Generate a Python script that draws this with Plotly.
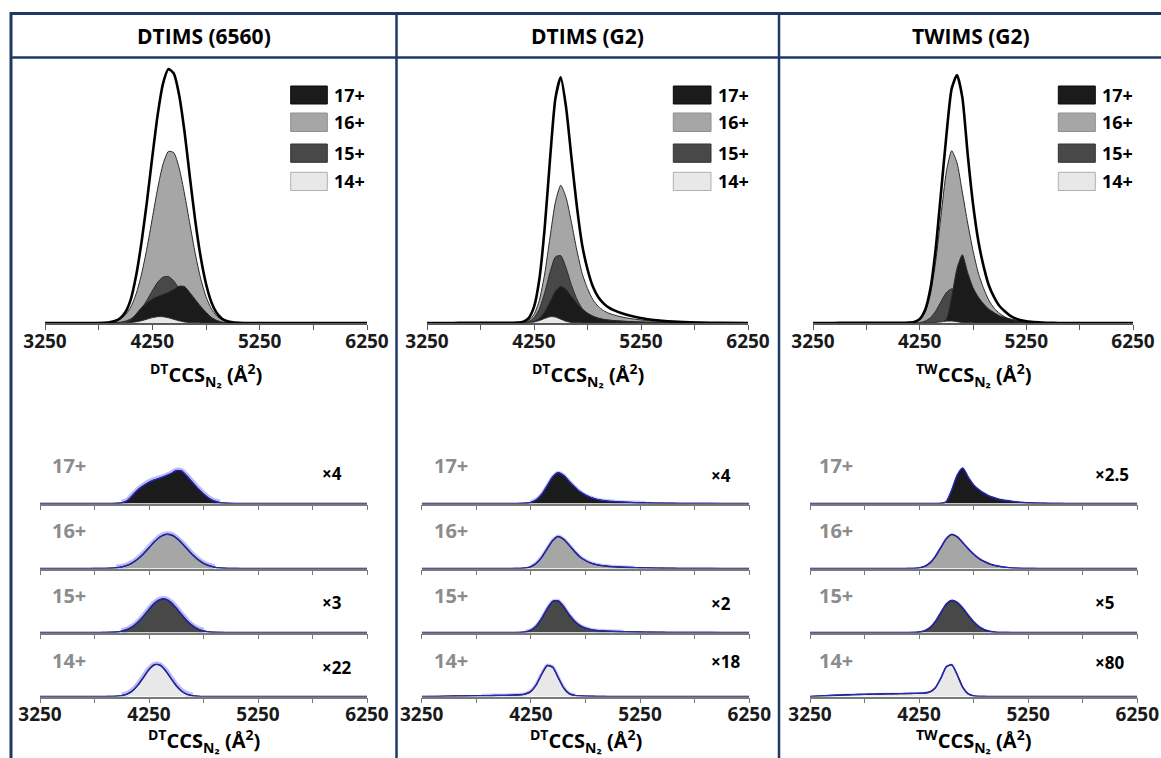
import plotly.graph_objects as go

# ---------------- data ----------------
CCS = [3250, 3400, 3500, 3600, 3700, 3800, 3850, 3900, 3950, 4000, 4050, 4100, 4150,
       4200, 4250, 4300, 4350, 4400, 4450, 4500, 4550, 4600, 4650, 4700, 4750, 4800,
       4850, 4900, 4950, 5000, 5100, 5200, 5300, 5400, 5500, 5600, 5800, 6000, 6250]

# DTIMS (6560)
DT6560_TOTAL = [0, 0, 0, 0, 0.0001, 0.0010, 0.0028, 0.0074, 0.0186, 0.0427, 0.0926, 0.1857, 0.3155,
                0.4714, 0.6445, 0.8075, 0.9286, 0.9843, 0.9666, 0.8829, 0.7409, 0.5643, 0.3957, 0.2566,
                0.1519, 0.0807, 0.0386, 0.0167, 0.0065, 0.0023, 0.0002, 0, 0, 0, 0, 0, 0, 0, 0]
DT6560_17 = [0, 0, 0, 0, 0, 0, 0, 0, 0.0007, 0.0029, 0.0118, 0.0353, 0.0603, 0.0779, 0.0926, 0.1029,
             0.1103, 0.1191, 0.1294, 0.1426, 0.1411, 0.1176, 0.0911, 0.0647, 0.0412, 0.0221, 0.0103,
             0.0037, 0.0012, 0.0003, 0, 0, 0, 0, 0, 0, 0, 0, 0]
DT6560_16 = [0, 0, 0, 0, 0.0001, 0.0009, 0.0024, 0.0062, 0.0147, 0.0317, 0.0627, 0.114, 0.190, 0.290,
             0.406, 0.522, 0.616, 0.665, 0.660, 0.600, 0.500, 0.383, 0.268, 0.173, 0.102, 0.055, 0.027,
             0.0125, 0.0052, 0.002, 0.0002, 0, 0, 0, 0, 0, 0, 0, 0]
DT6560_15 = [0, 0, 0, 0, 0, 0.0001, 0.0004, 0.0011, 0.003, 0.0074, 0.0162, 0.0319, 0.0562, 0.0886,
             0.125, 0.158, 0.178, 0.180, 0.163, 0.132, 0.0957, 0.062, 0.036, 0.0187, 0.0087, 0.0036,
             0.0013, 0.0005, 0.0001, 0, 0, 0, 0, 0, 0, 0, 0, 0, 0]
DT6560_14 = [0, 0, 0, 0, 0, 0, 0, 0.0001, 0.0002, 0.0007, 0.0019, 0.0045, 0.0090, 0.0149, 0.0209,
             0.0246, 0.0243, 0.0202, 0.0142, 0.0083, 0.0041, 0.0017, 0.0006, 0.0002, 0, 0, 0, 0, 0,
             0, 0, 0, 0, 0, 0, 0, 0, 0, 0]

# DTIMS (G2)
DTG2_TOTAL = [0, 0.0001, 0.0003, 0.0004, 0.0005, 0.0007, 0.0007, 0.0008, 0.0009, 0.0009, 0.0011,
              0.0019, 0.0055, 0.0196, 0.0647, 0.1763, 0.3832, 0.6613, 0.9048, 0.9901, 0.8683, 0.6663,
              0.4718, 0.3149, 0.2167, 0.1472, 0.1051, 0.0793, 0.0621, 0.0510, 0.0350, 0.0241, 0.0163,
              0.0108, 0.0071, 0.0046, 0.0018, 0.0006, 0]
DTG2_17 = [0, 0, 0, 0, 0, 0, 0, 0, 0, 0, 0, 0, 0.0003, 0.0014, 0.0057, 0.0181, 0.0445, 0.0853, 0.1273,
           0.1480, 0.1347, 0.1066, 0.0799, 0.0562, 0.0400, 0.0281, 0.0200, 0.0148, 0.0115, 0.0093,
           0.0065, 0.0044, 0.0030, 0.0019, 0.0013, 0.0008, 0.0003, 0.0001, 0]
DTG2_16 = [0, 0, 0, 0, 0, 0, 0, 0, 0, 0, 0.0001, 0.0005, 0.0025, 0.0103, 0.0342, 0.0916, 0.198, 0.346,
           0.487, 0.555, 0.505, 0.405, 0.294, 0.200, 0.139, 0.094, 0.067, 0.050, 0.039, 0.032, 0.0216,
           0.015, 0.010, 0.0067, 0.0044, 0.0028, 0.0011, 0.0004, 0]
DTG2_15 = [0, 0, 0, 0, 0, 0, 0, 0, 0, 0, 0, 0.0002, 0.0013, 0.0058, 0.0206, 0.0568, 0.1221, 0.2044,
           0.2664, 0.2715, 0.2216, 0.1524, 0.0970, 0.0582, 0.0374, 0.0249, 0.0180, 0.0144, 0.0116,
           0.0097, 0.0069, 0.0047, 0.0033, 0.0022, 0.0014, 0.0010, 0.0004, 0.0001, 0]
DTG2_14 = [0, 0.0001, 0.0003, 0.0004, 0.0005, 0.0007, 0.0007, 0.0008, 0.0009, 0.0009, 0.0010, 0.0012,
           0.0014, 0.0021, 0.0042, 0.0098, 0.0186, 0.0256, 0.0241, 0.0156, 0.0070, 0.0023, 0.0009,
           0.0005, 0.0003, 0.0002, 0.0001, 0.0001, 0, 0, 0, 0, 0, 0, 0, 0, 0, 0, 0]

# TWIMS (G2)
TWG2_TOTAL = [0, 0.0002, 0.0003, 0.0004, 0.0005, 0.0006, 0.0006, 0.0006, 0.0006, 0.0007, 0.0007,
              0.0007, 0.0013, 0.0042, 0.0151, 0.0492, 0.1319, 0.2874, 0.5062, 0.7271, 0.9115, 0.9646,
              0.8775, 0.6570, 0.4638, 0.3189, 0.2195, 0.1447, 0.0984, 0.0652, 0.0280, 0.0108, 0.0044,
              0.0016, 0.0005, 0, 0, 0, 0]
TWG2_17 = [0, 0, 0, 0, 0, 0, 0, 0, 0, 0, 0, 0, 0, 0, 0, 0, 0, 0, 0.0013, 0.0133, 0.1007, 0.2120,
           0.2650, 0.1961, 0.1378, 0.1007, 0.0742, 0.0530, 0.0398, 0.0278, 0.0159, 0.0074, 0.0037,
           0.0016, 0.0005, 0, 0, 0, 0]
TWG2_16 = [0, 0, 0, 0, 0, 0, 0, 0, 0, 0, 0, 0, 0.0006, 0.0030, 0.0124, 0.0413, 0.1106, 0.2392, 0.4174,
           0.5883, 0.6700, 0.6231, 0.5092, 0.3886, 0.2814, 0.1943, 0.1340, 0.0871, 0.0570, 0.0369,
           0.0121, 0.0034, 0.0007, 0, 0, 0, 0, 0, 0]
TWG2_15 = [0, 0, 0, 0, 0, 0, 0, 0, 0, 0, 0, 0, 0, 0.0004, 0.0019, 0.0070, 0.0202, 0.0460, 0.0830,
           0.1182, 0.1330, 0.1242, 0.1011, 0.0717, 0.0444, 0.0239, 0.0113, 0.0046, 0.0016, 0.0005,
           0, 0, 0, 0, 0, 0, 0, 0, 0]
TWG2_14 = [0, 0.00020, 0.00032, 0.00042, 0.00050, 0.00056, 0.00059, 0.00062, 0.00064, 0.00066,
           0.00069, 0.00071, 0.00074, 0.00076, 0.00078, 0.00085, 0.00114, 0.00216, 0.00451, 0.00730,
           0.00778, 0.00528, 0.00224, 0.00064, 0.00016, 0.00004, 0.00001, 0, 0, 0, 0, 0, 0, 0, 0, 0,
           0, 0, 0]

TITLES = ["DTIMS (6560)", "DTIMS (G2)", "TWIMS (G2)"]
AXIS_PREFIX = ["DT", "DT", "TW"]
CHARGES = ["17+", "16+", "15+", "14+"]
MULT_6560 = ["×4", "", "×3", "×22"]
MULT_DTG2 = ["×4", "", "×2", "×18"]
MULT_TWG2 = ["×2.5", "", "×5", "×80"]
TICK_VALS = [3250, 4250, 5250, 6250]
TICK_TEXT = ["3250", "4250", "5250", "6250"]

PANELS = [
    dict(total=DT6560_TOTAL, comps={"17+": DT6560_17, "16+": DT6560_16, "15+": DT6560_15, "14+": DT6560_14}, mult=MULT_6560),
    dict(total=DTG2_TOTAL, comps={"17+": DTG2_17, "16+": DTG2_16, "15+": DTG2_15, "14+": DTG2_14}, mult=MULT_DTG2),
    dict(total=TWG2_TOTAL, comps={"17+": TWG2_17, "16+": TWG2_16, "15+": TWG2_15, "14+": TWG2_14}, mult=MULT_TWG2),
]

# ---------------- layout constants (pixels) ----------------
W, H = 1161, 758
FONT = "Open Sans"
NAVY = "#1f3864"
AXC_TOP = "#5a5a5a"
AXC_BOT = "#7a7a7a"
FILL = {"17+": "#1b1b1b", "16+": "#a6a6a6", "15+": "#484848", "14+": "#e8e8e8"}
SWATCH_EDGE = {"17+": "#0a0a0a", "16+": "#8e8e8e", "15+": "#333333", "14+": "#b0b0b0"}
TOP_X = [(45, 367), (427, 748), (813, 1133)]
BOT_X = [(40, 367), (421.7, 749.3), (810, 1137.3)]
TOP_AXIS_PY, TOP_TOP_PY = 323, 60
TOP_YMAX = [1.019, 1.06, 1.023]
BOT_AXIS_PY = [503.5, 568.5, 632.5, 696.5]
BOT_H = 45
BOT_YMAX = [[0.1962, 0.880, 0.2432, 0.0349],
            [0.2169, 0.7805, 0.3854, 0.03716],
            [0.3378, 0.8868, 0.1870, 0.01104]]
HALO_W = [6, 4, 2.5]
HALO_C = ["rgba(120,120,245,0.50)", "rgba(120,120,245,0.40)", "rgba(120,120,245,0.35)"]
BLUE = "#2626c8"
LEG_X = [(290.7, 327.3), (673.3, 711), (1058.3, 1095.3)]
LEG_Y = [(86, 104), (113, 131.5), (144, 162.3), (172.3, 190.5)]
ROW_LABEL_X = [50, 431.7, 817]
ROW_LABEL_Y = [465, 530, 595, 660]
MULT_X = [320, 709, 1092.7]
MULT_Y = [[473.5, 0, 602.5, 667], [475, 0, 603, 661.5], [474, 0, 602.5, 662.5]]


def fx(px):
    return px / W


def fy(py):
    return 1 - py / H


fig = go.Figure()
layout = {}
annotations = []
shapes = []


def xaxis_def(k, x0, x1, labels, color):
    return dict(domain=[fx(x0), fx(x1)], range=[3250, 6250], anchor=f"y{k}",
                showline=True, linecolor=color, linewidth=1.5, mirror=False,
                ticks="outside", ticklen=5, tickwidth=1.3, tickcolor=color,
                tickmode="array", tickvals=TICK_VALS, ticktext=TICK_TEXT, showticklabels=labels,
                ticklabelstandoff=-5, automargin=False,
                minor=dict(tick0=3250, dtick=500, ticks="outside", ticklen=5, tickwidth=1.3,
                           tickcolor=color, showgrid=False),
                tickfont=dict(family=FONT, size=19, color="#1a1a1a", weight="bold"),
                showgrid=False, zeroline=False, fixedrange=True)


def yaxis_def(k, py_bottom, py_top, ymax):
    return dict(domain=[fy(py_bottom), fy(py_top)], range=[0, ymax], anchor=f"x{k}",
                visible=False, showgrid=False, zeroline=False, fixedrange=True, automargin=False)


def key(prefix, k):
    return prefix if k == 1 else f"{prefix}{k}"


for p, panel in enumerate(PANELS):
    # ---- top panel ----
    k = p + 1
    layout[key("xaxis", k)] = xaxis_def(k, *TOP_X[p], True, AXC_TOP)
    layout[key("yaxis", k)] = yaxis_def(k, TOP_AXIS_PY, TOP_TOP_PY, TOP_YMAX[p])
    xr, yr = key("x", k), key("y", k)
    for name in ["16+", "15+", "17+", "14+"]:
        fig.add_trace(go.Scatter(x=CCS, y=panel["comps"][name], mode="lines", fill="tozeroy",
                                 fillcolor=FILL[name],
                                 line=dict(color="#2a2a2a", width=1, shape="spline", smoothing=0.6),
                                 xaxis=xr, yaxis=yr, showlegend=False, hoverinfo="skip"))
    fig.add_trace(go.Scatter(x=CCS, y=panel["total"], mode="lines",
                             line=dict(color="#000000", width=2.6, shape="spline", smoothing=0.6),
                             xaxis=xr, yaxis=yr, showlegend=False, hoverinfo="skip"))

    # ---- bottom panels ----
    for r, name in enumerate(CHARGES):
        k = 4 + p * 4 + r
        last = (r == 3)
        layout[key("xaxis", k)] = xaxis_def(k, *BOT_X[p], last, AXC_BOT)
        layout[key("yaxis", k)] = yaxis_def(k, BOT_AXIS_PY[r], BOT_AXIS_PY[r] - BOT_H, BOT_YMAX[p][r])
        xr, yr = f"x{k}", f"y{k}"
        ys = panel["comps"][name]
        # halo only where the trace clearly rises above the baseline
        cut = 0.02 * max(ys)
        hx = [x for x, y in zip(CCS, ys) if y > cut]
        hy = [y for y in ys if y > cut]
        fig.add_trace(go.Scatter(x=hx, y=hy, mode="lines",
                                 line=dict(color=HALO_C[p], width=HALO_W[p], shape="spline", smoothing=0.6),
                                 xaxis=xr, yaxis=yr, showlegend=False, hoverinfo="skip"))
        fig.add_trace(go.Scatter(x=CCS, y=ys, mode="lines", fill="tozeroy", fillcolor=FILL[name],
                                 line=dict(color="#111111", width=1.4, shape="spline", smoothing=0.6),
                                 xaxis=xr, yaxis=yr, showlegend=False, hoverinfo="skip"))
        fig.add_trace(go.Scatter(x=CCS, y=ys, mode="lines",
                                 line=dict(color=BLUE, width=1.2, shape="spline", smoothing=0.6),
                                 xaxis=xr, yaxis=yr, showlegend=False, hoverinfo="skip"))
        # row label and multiplier
        annotations.append(dict(text=f"<b>{name}</b>", x=fx(ROW_LABEL_X[p]), y=fy(ROW_LABEL_Y[r]),
                                xref="paper", yref="paper", xanchor="left", yanchor="middle",
                                showarrow=False, font=dict(family=FONT, size=20, color="#8c8c8c")))
        if panel["mult"][r]:
            annotations.append(dict(text=f"<b>{panel['mult'][r]}</b>", x=fx(MULT_X[p]), y=fy(MULT_Y[p][r]),
                                    xref="paper", yref="paper", xanchor="left", yanchor="middle",
                                    showarrow=False, font=dict(family=FONT, size=17, color="#000000")))

    # ---- header title ----
    cx = [203.5, 587.7, 970.5][p]
    annotations.append(dict(text=f"<b>{TITLES[p]}</b>", x=fx(cx), y=fy(36.5), xref="paper", yref="paper",
                            xanchor="center", yanchor="middle", showarrow=False,
                            font=dict(family=FONT, size=21, color="#000000")))
    # ---- axis titles ----
    title = f"<b><sup>{AXIS_PREFIX[p]}</sup>CCS<sub>N₂</sub> (Å<sup>2</sup>)</b>"
    tx = (TOP_X[p][0] + TOP_X[p][1]) / 2
    bx = (BOT_X[p][0] + BOT_X[p][1]) / 2
    for xx, yy in [(tx, 375), (bx, 741)]:
        annotations.append(dict(text=title, x=fx(xx), y=fy(yy), xref="paper", yref="paper",
                                xanchor="center", yanchor="middle", showarrow=False,
                                font=dict(family=FONT, size=20, color="#000000")))
    # ---- legend ----
    for i, name in enumerate(CHARGES):
        (lx0, lx1), (ly0, ly1) = LEG_X[p], LEG_Y[i]
        shapes.append(dict(type="rect", xref="paper", yref="paper", x0=fx(lx0), x1=fx(lx1),
                           y0=fy(ly1), y1=fy(ly0), fillcolor=FILL[name],
                           line=dict(color=SWATCH_EDGE[name], width=1)))
        annotations.append(dict(text=f"<b>{name}</b>", x=fx(lx1 + 5), y=fy((ly0 + ly1) / 2),
                                xref="paper", yref="paper", xanchor="left", yanchor="middle",
                                showarrow=False, font=dict(family=FONT, size=18, color="#000000")))

# ---- frame lines ----
frame = [
    (10, 13.5, 1161, 13.5, 3),     # top border
    (11, 12, 11, 758, 3),          # left border
    (10, 57.5, 1161, 57.5, 2.5),   # header separator
    (396.5, 12, 396.5, 758, 2.5),  # divider 1
    (779, 12, 779, 758, 2.5),      # divider 2
]
for x0, y0, x1, y1, w in frame:
    shapes.append(dict(type="line", xref="paper", yref="paper", x0=fx(x0), y0=fy(y0), x1=fx(x1), y1=fy(y1),
                       line=dict(color=NAVY, width=w)))

fig.update_layout(width=W, height=H, autosize=False,
                  margin=dict(l=0, r=0, t=0, b=0, pad=0, autoexpand=False),
                  paper_bgcolor="white", plot_bgcolor="rgba(0,0,0,0)",
                  annotations=annotations, shapes=shapes, showlegend=False,
                  font=dict(family=FONT), **layout)

POST = ("document.documentElement.style.overflow='hidden';"
        "document.body.style.overflow='hidden';"
        "document.body.style.margin='0';document.body.style.padding='0';")
fig.write_html("out.html", post_script=POST, config={"displayModeBar": False})
